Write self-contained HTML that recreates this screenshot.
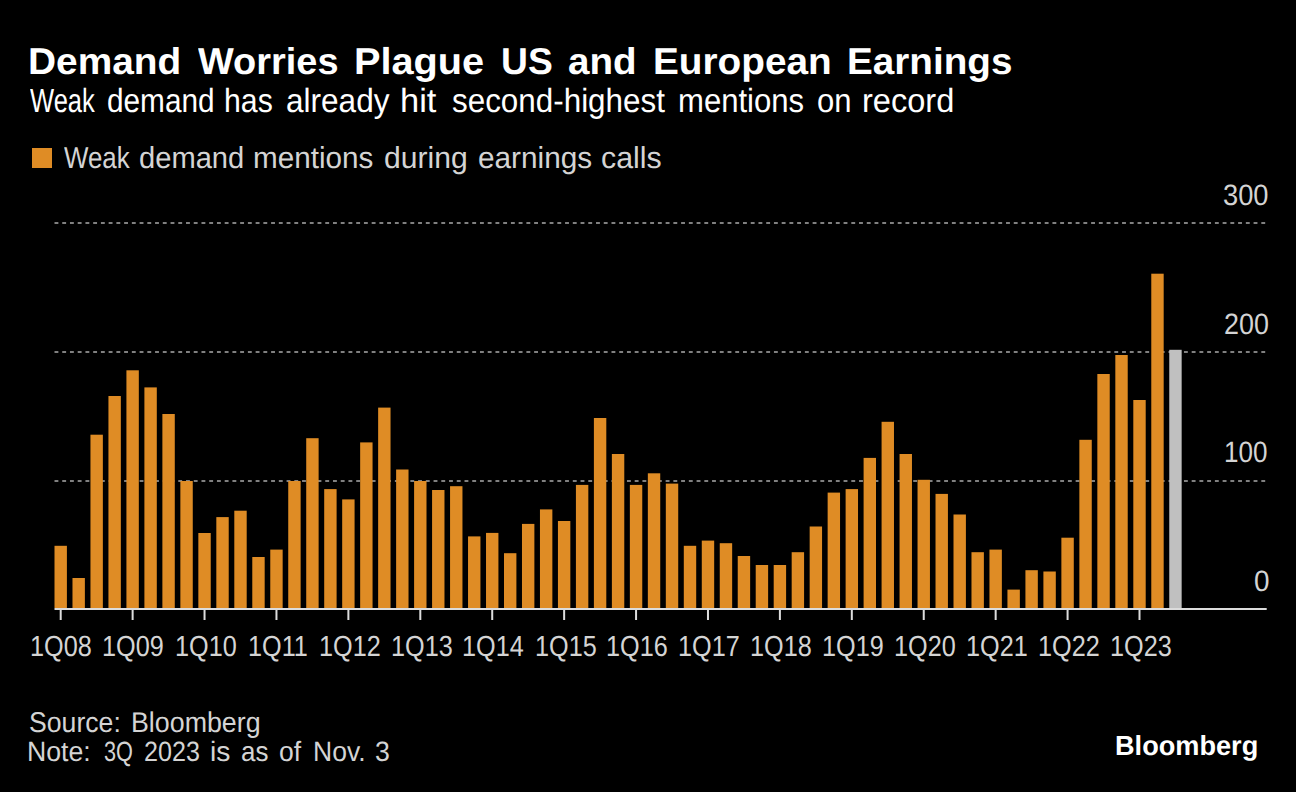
<!DOCTYPE html>
<html><head><meta charset="utf-8"><title>Demand Worries Plague US and European Earnings</title><style>
html,body{margin:0;padding:0;background:#000;width:1296px;height:792px;overflow:hidden}
.t{position:absolute;font-family:"Liberation Sans",sans-serif;white-space:pre;transform-origin:0 0;text-rendering:geometricPrecision}
.b{position:absolute}
</style></head><body>
<div class="b" style="left:32px;top:148px;width:20px;height:20px;background:#df8c25"></div>
<svg class="b" style="left:0;top:0" width="1296" height="792">
<line x1="54.5" y1="223" x2="1265.2" y2="223" stroke="#808080" stroke-width="2" stroke-dasharray="3.868 3.868"/>
<line x1="54.5" y1="352" x2="1265.2" y2="352" stroke="#808080" stroke-width="2" stroke-dasharray="3.868 3.868"/>
<line x1="54.5" y1="481" x2="1265.2" y2="481" stroke="#808080" stroke-width="2" stroke-dasharray="3.868 3.868"/>
<rect x="54.50" y="545.80" width="12.4" height="62.20" fill="#df8c25"/>
<rect x="72.48" y="578.00" width="12.4" height="30.00" fill="#df8c25"/>
<rect x="90.46" y="434.70" width="12.4" height="173.30" fill="#df8c25"/>
<rect x="108.44" y="396.00" width="12.4" height="212.00" fill="#df8c25"/>
<rect x="126.42" y="370.30" width="12.4" height="237.70" fill="#df8c25"/>
<rect x="144.40" y="387.40" width="12.4" height="220.60" fill="#df8c25"/>
<rect x="162.38" y="414.00" width="12.4" height="194.00" fill="#df8c25"/>
<rect x="180.36" y="481.00" width="12.4" height="127.00" fill="#df8c25"/>
<rect x="198.34" y="533.00" width="12.4" height="75.00" fill="#df8c25"/>
<rect x="216.32" y="517.10" width="12.4" height="90.90" fill="#df8c25"/>
<rect x="234.30" y="510.70" width="12.4" height="97.30" fill="#df8c25"/>
<rect x="252.28" y="557.00" width="12.4" height="51.00" fill="#df8c25"/>
<rect x="270.26" y="549.60" width="12.4" height="58.40" fill="#df8c25"/>
<rect x="288.24" y="481.00" width="12.4" height="127.00" fill="#df8c25"/>
<rect x="306.22" y="438.20" width="12.4" height="169.80" fill="#df8c25"/>
<rect x="324.20" y="489.10" width="12.4" height="118.90" fill="#df8c25"/>
<rect x="342.18" y="499.40" width="12.4" height="108.60" fill="#df8c25"/>
<rect x="360.16" y="442.40" width="12.4" height="165.60" fill="#df8c25"/>
<rect x="378.14" y="407.60" width="12.4" height="200.40" fill="#df8c25"/>
<rect x="396.12" y="469.50" width="12.4" height="138.50" fill="#df8c25"/>
<rect x="414.10" y="481.00" width="12.4" height="127.00" fill="#df8c25"/>
<rect x="432.08" y="490.00" width="12.4" height="118.00" fill="#df8c25"/>
<rect x="450.06" y="486.20" width="12.4" height="121.80" fill="#df8c25"/>
<rect x="468.04" y="536.40" width="12.4" height="71.60" fill="#df8c25"/>
<rect x="486.02" y="532.90" width="12.4" height="75.10" fill="#df8c25"/>
<rect x="504.00" y="553.20" width="12.4" height="54.80" fill="#df8c25"/>
<rect x="521.98" y="523.90" width="12.4" height="84.10" fill="#df8c25"/>
<rect x="539.96" y="509.40" width="12.4" height="98.60" fill="#df8c25"/>
<rect x="557.94" y="521.00" width="12.4" height="87.00" fill="#df8c25"/>
<rect x="575.92" y="484.90" width="12.4" height="123.10" fill="#df8c25"/>
<rect x="593.90" y="418.00" width="12.4" height="190.00" fill="#df8c25"/>
<rect x="611.88" y="454.00" width="12.4" height="154.00" fill="#df8c25"/>
<rect x="629.86" y="484.90" width="12.4" height="123.10" fill="#df8c25"/>
<rect x="647.84" y="473.30" width="12.4" height="134.70" fill="#df8c25"/>
<rect x="665.82" y="483.60" width="12.4" height="124.40" fill="#df8c25"/>
<rect x="683.80" y="545.80" width="12.4" height="62.20" fill="#df8c25"/>
<rect x="701.78" y="540.60" width="12.4" height="67.40" fill="#df8c25"/>
<rect x="719.76" y="543.20" width="12.4" height="64.80" fill="#df8c25"/>
<rect x="737.74" y="556.00" width="12.4" height="52.00" fill="#df8c25"/>
<rect x="755.72" y="565.00" width="12.4" height="43.00" fill="#df8c25"/>
<rect x="773.70" y="565.00" width="12.4" height="43.00" fill="#df8c25"/>
<rect x="791.68" y="552.20" width="12.4" height="55.80" fill="#df8c25"/>
<rect x="809.66" y="526.50" width="12.4" height="81.50" fill="#df8c25"/>
<rect x="827.64" y="492.60" width="12.4" height="115.40" fill="#df8c25"/>
<rect x="845.62" y="489.10" width="12.4" height="118.90" fill="#df8c25"/>
<rect x="863.60" y="457.90" width="12.4" height="150.10" fill="#df8c25"/>
<rect x="881.58" y="421.80" width="12.4" height="186.20" fill="#df8c25"/>
<rect x="899.56" y="454.00" width="12.4" height="154.00" fill="#df8c25"/>
<rect x="917.54" y="479.80" width="12.4" height="128.20" fill="#df8c25"/>
<rect x="935.52" y="493.90" width="12.4" height="114.10" fill="#df8c25"/>
<rect x="953.50" y="514.50" width="12.4" height="93.50" fill="#df8c25"/>
<rect x="971.48" y="552.20" width="12.4" height="55.80" fill="#df8c25"/>
<rect x="989.46" y="549.60" width="12.4" height="58.40" fill="#df8c25"/>
<rect x="1007.44" y="589.60" width="12.4" height="18.40" fill="#df8c25"/>
<rect x="1025.42" y="570.20" width="12.4" height="37.80" fill="#df8c25"/>
<rect x="1043.40" y="571.50" width="12.4" height="36.50" fill="#df8c25"/>
<rect x="1061.38" y="537.70" width="12.4" height="70.30" fill="#df8c25"/>
<rect x="1079.36" y="439.80" width="12.4" height="168.20" fill="#df8c25"/>
<rect x="1097.34" y="374.00" width="12.4" height="234.00" fill="#df8c25"/>
<rect x="1115.32" y="355.00" width="12.4" height="253.00" fill="#df8c25"/>
<rect x="1133.30" y="400.00" width="12.4" height="208.00" fill="#df8c25"/>
<rect x="1151.28" y="273.70" width="12.4" height="334.30" fill="#df8c25"/>
<rect x="1169.26" y="349.80" width="12.4" height="258.20" fill="#c0c0c0"/>
<rect x="54.5" y="608" width="1212.20" height="2" fill="#dcdcdc"/>
<rect x="59.70" y="608" width="2" height="12" fill="#dcdcdc"/>
<rect x="131.62" y="608" width="2" height="12" fill="#dcdcdc"/>
<rect x="203.54" y="608" width="2" height="12" fill="#dcdcdc"/>
<rect x="275.46" y="608" width="2" height="12" fill="#dcdcdc"/>
<rect x="347.38" y="608" width="2" height="12" fill="#dcdcdc"/>
<rect x="419.30" y="608" width="2" height="12" fill="#dcdcdc"/>
<rect x="491.22" y="608" width="2" height="12" fill="#dcdcdc"/>
<rect x="563.14" y="608" width="2" height="12" fill="#dcdcdc"/>
<rect x="635.06" y="608" width="2" height="12" fill="#dcdcdc"/>
<rect x="706.98" y="608" width="2" height="12" fill="#dcdcdc"/>
<rect x="778.90" y="608" width="2" height="12" fill="#dcdcdc"/>
<rect x="850.82" y="608" width="2" height="12" fill="#dcdcdc"/>
<rect x="922.74" y="608" width="2" height="12" fill="#dcdcdc"/>
<rect x="994.66" y="608" width="2" height="12" fill="#dcdcdc"/>
<rect x="1066.58" y="608" width="2" height="12" fill="#dcdcdc"/>
<rect x="1138.50" y="608" width="2" height="12" fill="#dcdcdc"/>
</svg>
<div class="t" id="title0" style="left:27.90px;top:43.00px;font-size:37.38px;line-height:37.38px;color:#ffffff;font-weight:700;transform:scaleX(1.0392)">Demand</div>
<div class="t" id="title1" style="left:198.00px;top:43.00px;font-size:37.38px;line-height:37.38px;color:#ffffff;font-weight:700;transform:scaleX(1.0146)">Worries</div>
<div class="t" id="title2" style="left:354.35px;top:43.00px;font-size:37.38px;line-height:37.38px;color:#ffffff;font-weight:700;transform:scaleX(1.0622)">Plague</div>
<div class="t" id="title3" style="left:501.01px;top:43.00px;font-size:37.38px;line-height:37.38px;color:#ffffff;font-weight:700;transform:scaleX(0.9960)">US</div>
<div class="t" id="title4" style="left:567.97px;top:43.00px;font-size:37.38px;line-height:37.38px;color:#ffffff;font-weight:700;transform:scaleX(1.0322)">and</div>
<div class="t" id="title5" style="left:652.92px;top:43.00px;font-size:37.38px;line-height:37.38px;color:#ffffff;font-weight:700;transform:scaleX(1.0369)">European</div>
<div class="t" id="title6" style="left:847.43px;top:43.00px;font-size:37.38px;line-height:37.38px;color:#ffffff;font-weight:700;transform:scaleX(1.0344)">Earnings</div>
<div class="t" id="sub0" style="left:29.53px;top:85.00px;font-size:33.60px;line-height:33.60px;color:#ffffff;transform:scaleX(0.7601)">Weak</div>
<div class="t" id="sub1" style="left:106.65px;top:85.00px;font-size:33.60px;line-height:33.60px;color:#ffffff;transform:scaleX(0.8864)">demand</div>
<div class="t" id="sub2" style="left:224.16px;top:85.00px;font-size:33.60px;line-height:33.60px;color:#ffffff;transform:scaleX(0.9005)">has</div>
<div class="t" id="sub3" style="left:286.06px;top:85.00px;font-size:33.60px;line-height:33.60px;color:#ffffff;transform:scaleX(0.9395)">already</div>
<div class="t" id="sub4" style="left:400.42px;top:85.00px;font-size:33.60px;line-height:33.60px;color:#ffffff;transform:scaleX(1.0255)">hit</div>
<div class="t" id="sub5" style="left:451.57px;top:85.00px;font-size:33.60px;line-height:33.60px;color:#ffffff;transform:scaleX(0.9348)">second-highest</div>
<div class="t" id="sub6" style="left:677.61px;top:85.00px;font-size:33.60px;line-height:33.60px;color:#ffffff;transform:scaleX(0.9254)">mentions</div>
<div class="t" id="sub7" style="left:817.10px;top:85.00px;font-size:33.60px;line-height:33.60px;color:#ffffff;transform:scaleX(0.9241)">on</div>
<div class="t" id="sub8" style="left:861.54px;top:85.00px;font-size:33.60px;line-height:33.60px;color:#ffffff;transform:scaleX(0.9696)">record</div>
<div class="t" id="legend0" style="left:64.06px;top:144.00px;font-size:30.25px;line-height:30.25px;color:#d4d4d4;transform:scaleX(0.8554)">Weak</div>
<div class="t" id="legend1" style="left:139.03px;top:144.00px;font-size:30.25px;line-height:30.25px;color:#d4d4d4;transform:scaleX(0.9627)">demand</div>
<div class="t" id="legend2" style="left:253.04px;top:144.00px;font-size:30.25px;line-height:30.25px;color:#d4d4d4;transform:scaleX(0.9800)">mentions</div>
<div class="t" id="legend3" style="left:384.01px;top:144.00px;font-size:30.25px;line-height:30.25px;color:#d4d4d4;transform:scaleX(0.9952)">during</div>
<div class="t" id="legend4" style="left:478.02px;top:144.00px;font-size:30.25px;line-height:30.25px;color:#d4d4d4;transform:scaleX(0.9842)">earnings</div>
<div class="t" id="legend5" style="left:601.00px;top:144.00px;font-size:30.25px;line-height:30.25px;color:#d4d4d4;transform:scaleX(1.0035)">calls</div>
<div class="t" id="source0" style="left:28.55px;top:709.00px;font-size:28.51px;line-height:28.51px;color:#d4d4d4;transform:scaleX(0.9348)">Source:</div>
<div class="t" id="source1" style="left:131.16px;top:709.00px;font-size:28.51px;line-height:28.51px;color:#d4d4d4;transform:scaleX(0.9403)">Bloomberg</div>
<div class="t" id="note0" style="left:27.11px;top:738.00px;font-size:27.93px;line-height:27.93px;color:#d4d4d4;transform:scaleX(0.9549)">Note:</div>
<div class="t" id="note1" style="left:103.75px;top:738.00px;font-size:27.93px;line-height:27.93px;color:#d4d4d4;transform:scaleX(0.7774)">3Q</div>
<div class="t" id="note2" style="left:144.10px;top:738.00px;font-size:27.93px;line-height:27.93px;color:#d4d4d4;transform:scaleX(0.9000)">2023</div>
<div class="t" id="note3" style="left:210.45px;top:738.00px;font-size:27.93px;line-height:27.93px;color:#d4d4d4;transform:scaleX(1.0125)">is</div>
<div class="t" id="note4" style="left:241.02px;top:738.00px;font-size:27.93px;line-height:27.93px;color:#d4d4d4;transform:scaleX(0.9293)">as</div>
<div class="t" id="note5" style="left:279.02px;top:738.00px;font-size:27.93px;line-height:27.93px;color:#d4d4d4;transform:scaleX(0.9485)">of</div>
<div class="t" id="note6" style="left:313.10px;top:738.00px;font-size:27.93px;line-height:27.93px;color:#d4d4d4;transform:scaleX(0.9492)">Nov.</div>
<div class="t" id="note7" style="left:374.54px;top:738.00px;font-size:27.93px;line-height:27.93px;color:#d4d4d4;transform:scaleX(0.9575)">3</div>
<div class="t" id="logo0" style="left:1115.02px;top:732.00px;font-size:27.49px;line-height:27.49px;color:#ffffff;font-weight:700;transform:scaleX(0.9873)">Bloomberg</div>
<div class="t" id="y300" style="left:1223.10px;top:181.00px;font-size:29.53px;line-height:29.53px;color:#d4d4d4;transform:scaleX(0.9236)">300</div>
<div class="t" id="y200" style="left:1224.09px;top:310.00px;font-size:29.53px;line-height:29.53px;color:#d4d4d4;transform:scaleX(0.9109)">200</div>
<div class="t" id="y100" style="left:1224.28px;top:438.00px;font-size:29.53px;line-height:29.53px;color:#d4d4d4;transform:scaleX(0.8830)">100</div>
<div class="t" id="y0" style="left:1254.08px;top:567.00px;font-size:29.53px;line-height:29.53px;color:#d4d4d4;transform:scaleX(0.9446)">0</div>
<div class="t" id="x0" style="left:30.36px;top:633.00px;font-size:29.10px;line-height:29.10px;color:#d4d4d4;transform:scaleX(0.8676)">1Q08</div>
<div class="t" id="x1" style="left:102.41px;top:633.00px;font-size:29.10px;line-height:29.10px;color:#d4d4d4;transform:scaleX(0.8676)">1Q09</div>
<div class="t" id="x2" style="left:175.02px;top:633.00px;font-size:29.10px;line-height:29.10px;color:#d4d4d4;transform:scaleX(0.8676)">1Q10</div>
<div class="t" id="x3" style="left:247.93px;top:633.00px;font-size:29.10px;line-height:29.10px;color:#d4d4d4;transform:scaleX(0.8676)">1Q11</div>
<div class="t" id="x4" style="left:318.67px;top:633.00px;font-size:29.10px;line-height:29.10px;color:#d4d4d4;transform:scaleX(0.8676)">1Q12</div>
<div class="t" id="x5" style="left:390.85px;top:633.00px;font-size:29.10px;line-height:29.10px;color:#d4d4d4;transform:scaleX(0.8676)">1Q13</div>
<div class="t" id="x6" style="left:462.46px;top:633.00px;font-size:29.10px;line-height:29.10px;color:#d4d4d4;transform:scaleX(0.8676)">1Q14</div>
<div class="t" id="x7" style="left:534.50px;top:633.00px;font-size:29.10px;line-height:29.10px;color:#d4d4d4;transform:scaleX(0.8676)">1Q15</div>
<div class="t" id="x8" style="left:606.11px;top:633.00px;font-size:29.10px;line-height:29.10px;color:#d4d4d4;transform:scaleX(0.8676)">1Q16</div>
<div class="t" id="x9" style="left:677.72px;top:633.00px;font-size:29.10px;line-height:29.10px;color:#d4d4d4;transform:scaleX(0.8676)">1Q17</div>
<div class="t" id="x10" style="left:750.33px;top:633.00px;font-size:29.10px;line-height:29.10px;color:#d4d4d4;transform:scaleX(0.8676)">1Q18</div>
<div class="t" id="x11" style="left:821.95px;top:633.00px;font-size:29.10px;line-height:29.10px;color:#d4d4d4;transform:scaleX(0.8676)">1Q19</div>
<div class="t" id="x12" style="left:893.56px;top:633.00px;font-size:29.10px;line-height:29.10px;color:#d4d4d4;transform:scaleX(0.8676)">1Q20</div>
<div class="t" id="x13" style="left:965.60px;top:633.00px;font-size:29.10px;line-height:29.10px;color:#d4d4d4;transform:scaleX(0.8676)">1Q21</div>
<div class="t" id="x14" style="left:1038.21px;top:633.00px;font-size:29.10px;line-height:29.10px;color:#d4d4d4;transform:scaleX(0.8676)">1Q22</div>
<div class="t" id="x15" style="left:1109.82px;top:633.00px;font-size:29.10px;line-height:29.10px;color:#d4d4d4;transform:scaleX(0.8676)">1Q23</div>
</body></html>
